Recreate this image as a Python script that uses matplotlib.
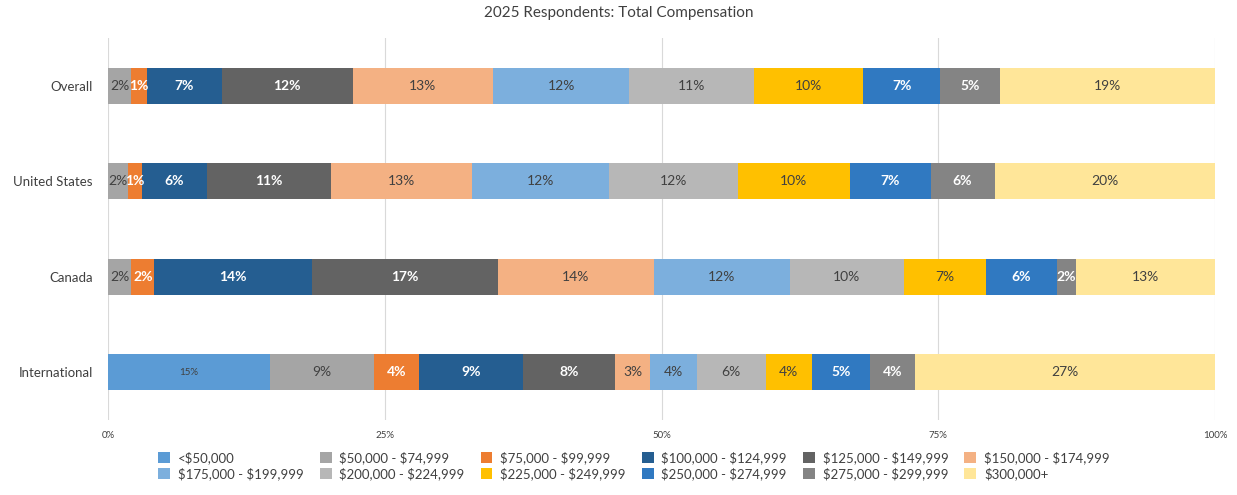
import matplotlib
matplotlib.use("Agg")
import matplotlib.pyplot as plt
from matplotlib.patches import Patch

plt.rcParams["font.family"] = ["Lato", "DejaVu Sans"]
plt.rcParams["text.parse_math"] = False

regions = ["Overall", "United States", "Canada", "International"]
brackets = ["<$50,000", "$50,000 - $74,999", "$75,000 - $99,999", "$100,000 - $124,999",
            "$125,000 - $149,999", "$150,000 - $174,999", "$175,000 - $199,999",
            "$200,000 - $224,999", "$225,000 - $249,999", "$250,000 - $274,999",
            "$275,000 - $299,999", "$300,000+"]

# percent of respondents per bracket, one list per region
overall = [0, 2.1, 1.4, 6.8, 11.8, 12.7, 12.3, 11.3, 9.8, 7.0, 5.4, 19.4]
united_states = [0, 1.8, 1.3, 5.8, 11.2, 12.8, 12.4, 11.6, 10.1, 7.3, 5.8, 19.9]
canada = [0, 2.1, 2.1, 14.2, 16.8, 14.1, 12.3, 10.3, 7.4, 6.4, 1.7, 12.6]
international = [14.6, 9.4, 4.1, 9.4, 8.3, 3.2, 4.2, 6.2, 4.2, 5.2, 4.1, 27.1]

colors = ["#5B9BD5", "#A5A5A5", "#ED7D31", "#255E91", "#636363", "#F4B183",
          "#7CAFDD", "#B7B7B7", "#FFC000", "#3079C1", "#848484", "#FFE699"]
white_text = {2, 3, 4, 9, 10}

fig = plt.figure(figsize=(12.37, 4.95), dpi=100)
ax = fig.add_axes([108 / 1237, 75 / 495, 1107 / 1237, 382 / 495])

rows = [overall, united_states, canada, international]
for r, vals in enumerate(rows):
    left = 0
    for i, v in enumerate(vals):
        if v > 0:
            ax.barh(r, v, left=left, height=0.38, color=colors[i], zorder=2)
            if i == 0:
                ax.text(left + v / 2, r, f"{round(v)}%", ha="center", va="center",
                        fontsize=7, color="#404040", zorder=3)
            else:
                white = i in white_text
                ax.text(left + v / 2, r, f"{round(v)}%", ha="center", va="center",
                        fontsize=10, color="white" if white else "#404040",
                        fontweight="bold" if white else "normal", zorder=3)
        left += v

ax.set_xlim(0, 100)
ax.set_ylim(3.5, -0.5)
ax.set_yticks(range(len(regions)))
ax.set_yticklabels(regions, fontsize=9.5, color="#404040")
ax.set_xticks([0, 25, 50, 75, 100])
ax.set_xticklabels(["0%", "25%", "50%", "75%", "100%"], fontsize=7, color="#404040")
ax.tick_params(length=0, pad=8)
ax.tick_params(axis="y", pad=11)
ax.grid(axis="x", color="#D9D9D9", linewidth=0.8, zorder=0)
for s in ax.spines.values():
    s.set_visible(False)

fig.text(0.5, 1 - 13 / 495, "2025 Respondents: Total Compensation", ha="center", va="center",
         fontsize=11, color="#404040")

handles = [Patch(facecolor=c) for c in colors]
order = []
for col in range(6):
    order += [col, col + 6]
fig.legend([handles[i] for i in order], [brackets[i] for i in order], ncol=6,
           loc="center", bbox_to_anchor=(0.5125, 1 - 466 / 495), frameon=False,
           fontsize=9.5, handlelength=0.9, handleheight=0.9, handletextpad=0.6,
           columnspacing=1.2, labelspacing=0.25, labelcolor="#404040")

fig.savefig("out.png")
